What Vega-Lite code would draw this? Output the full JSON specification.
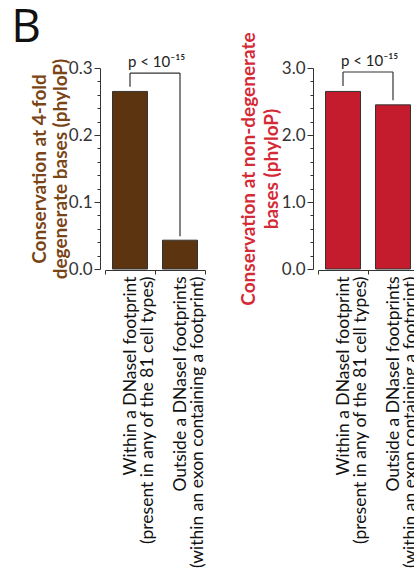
{
  "$schema": "https://vega.github.io/schema/vega-lite/v6.json",
  "padding": {"left": 11, "top": 4, "right": 5, "bottom": 5},
  "title": {"text": "B", "anchor": "start", "frame": "bounds", "fontSize": 46, "font": "Open Sans", "fontWeight": "normal", "color": "#111", "dx": -19, "offset": -20},
  "config": {
    "view": {"stroke": null},
    "font": "Lato",
    "axis": {"grid": false, "domainColor": "#333", "tickColor": "#333", "labelColor": "#333", "labelFont": "Lato", "titleFont": "Lato", "labelLimit": 0}
  },
  "spacing": 33,
  "hconcat": [
    {
      "width": 100,
      "height": 201,
      "encoding": {
        "x": {"field": "cat", "type": "nominal", "sort": null, "scale": {"paddingInner": 0, "paddingOuter": 0},
          "axis": {"title": null, "labelAngle": -90, "labelExpr": "split(datum.label, '|')", "labelFontSize": 17.5, "labelLineHeight": 17, "labelColor": "#111", "labelLimit": 0, "tickBand": "extent", "tickSize": 4, "labelPadding": 2, "offset": 1}},
        "y": {"field": "v", "type": "quantitative", "scale": {"domain": [0, 0.3], "nice": false},
          "axis": {"values": [0, 0.02, 0.04, 0.06, 0.08, 0.1, 0.12, 0.14, 0.16, 0.18, 0.2, 0.22, 0.24, 0.26, 0.28, 0.3],
            "labelExpr": "abs(datum.value*10 - round(datum.value*10)) < 0.001 ? format(datum.value, '.1f') : ''",
            "tickSize": {"condition": {"test": "abs(datum.value*10 - round(datum.value*10)) < 0.001", "value": 6}, "value": 3},
            "labelOverlap": false, "labelFlush": false, "labelFontSize": 17, "labelPadding": 2, "offset": 5,
            "title": ["Conservation at 4-fold", "degenerate bases (phyloP)"], "titleColor": "#7a4516", "titleFontSize": 19, "titleFontWeight": "bold", "titleLineHeight": 21, "titlePadding": -2}}
      },
      "layer": [
        {
          "data": {"values": [
            {"cat": "Within a DNaseI footprint|(present in any of the 81 cell types)", "v": 0.265},
            {"cat": "Outside a DNaseI footprints|(within an exon containing a footprint)", "v": 0.043}
          ]},
          "mark": {"type": "bar", "width": {"band": 0.7}, "color": "#5c3510", "stroke": "#333", "strokeWidth": 1}
        },
        {
          "data": {"values": [
            {"cat": "Within a DNaseI footprint|(present in any of the 81 cell types)", "cat2": "Within a DNaseI footprint|(present in any of the 81 cell types)", "v": 0.272, "v2": 0.2925},
            {"cat": "Within a DNaseI footprint|(present in any of the 81 cell types)", "cat2": "Outside a DNaseI footprints|(within an exon containing a footprint)", "v": 0.2925, "v2": 0.2925},
            {"cat": "Outside a DNaseI footprints|(within an exon containing a footprint)", "cat2": "Outside a DNaseI footprints|(within an exon containing a footprint)", "v": 0.049, "v2": 0.2925}
          ]},
          "mark": {"type": "rule", "color": "#333", "strokeWidth": 1.2},
          "encoding": {"x2": {"field": "cat2"}, "y2": {"field": "v2"}}
        },
        {
          "data": {"values": [{"cat": "Within a DNaseI footprint|(present in any of the 81 cell types)", "v": 0.2925, "t": "p < 10⁻¹⁵"}]},
          "mark": {"type": "text", "baseline": "alphabetic", "align": "left", "fontSize": 15, "color": "#222", "dy": -6, "dx": -2},
          "encoding": {"text": {"field": "t"}}
        }
      ]
    },
    {
      "width": 100,
      "height": 201,
      "encoding": {
        "x": {"field": "cat", "type": "nominal", "sort": null, "scale": {"paddingInner": 0, "paddingOuter": 0},
          "axis": {"title": null, "labelAngle": -90, "labelExpr": "split(datum.label, '|')", "labelFontSize": 17.5, "labelLineHeight": 17, "labelColor": "#111", "labelLimit": 0, "tickBand": "extent", "tickSize": 4, "labelPadding": 2, "offset": 1}},
        "y": {"field": "v", "type": "quantitative", "scale": {"domain": [0, 3], "nice": false},
          "axis": {"values": [0, 0.2, 0.4, 0.6, 0.8, 1, 1.2, 1.4, 1.6, 1.8, 2, 2.2, 2.4, 2.6, 2.8, 3],
            "labelExpr": "abs(datum.value - round(datum.value)) < 0.001 ? format(datum.value, '.1f') : ''",
            "tickSize": {"condition": {"test": "abs(datum.value - round(datum.value)) < 0.001", "value": 6}, "value": 3},
            "labelOverlap": false, "labelFlush": false, "labelFontSize": 17, "labelPadding": 2, "offset": 5,
            "title": ["Conservation at non-degenerate", "bases (phyloP)"], "titleColor": "#d42a36", "titleFontSize": 19, "titleFontWeight": "bold", "titleLineHeight": 23, "titlePadding": 0}}
      },
      "layer": [
        {
          "data": {"values": [
            {"cat": "Within a DNaseI footprint|(present in any of the 81 cell types)", "v": 2.65},
            {"cat": "Outside a DNaseI footprints|(within an exon containing a footprint)", "v": 2.45}
          ]},
          "mark": {"type": "bar", "width": {"band": 0.7}, "color": "#c41c2c", "stroke": "#333", "strokeWidth": 1}
        },
        {
          "data": {"values": [
            {"cat": "Within a DNaseI footprint|(present in any of the 81 cell types)", "cat2": "Within a DNaseI footprint|(present in any of the 81 cell types)", "v": 2.73, "v2": 2.94},
            {"cat": "Within a DNaseI footprint|(present in any of the 81 cell types)", "cat2": "Outside a DNaseI footprints|(within an exon containing a footprint)", "v": 2.94, "v2": 2.94},
            {"cat": "Outside a DNaseI footprints|(within an exon containing a footprint)", "cat2": "Outside a DNaseI footprints|(within an exon containing a footprint)", "v": 2.52, "v2": 2.94}
          ]},
          "mark": {"type": "rule", "color": "#333", "strokeWidth": 1.2},
          "encoding": {"x2": {"field": "cat2"}, "y2": {"field": "v2"}}
        },
        {
          "data": {"values": [{"cat": "Within a DNaseI footprint|(present in any of the 81 cell types)", "v": 2.94, "t": "p < 10⁻¹⁵"}]},
          "mark": {"type": "text", "baseline": "alphabetic", "align": "left", "fontSize": 15, "color": "#222", "dy": -6, "dx": -2},
          "encoding": {"text": {"field": "t"}}
        }
      ]
    }
  ]
}
